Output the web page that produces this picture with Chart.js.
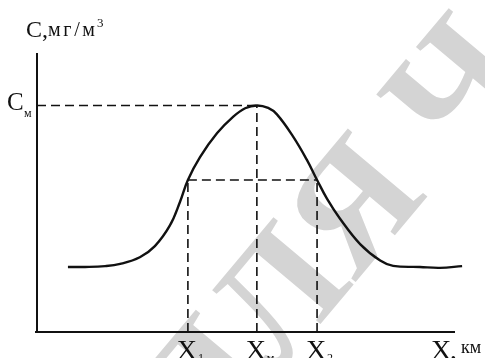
<!DOCTYPE html>
<html>
<head>
<meta charset="utf-8">
<script src="https://cdn.jsdelivr.net/npm/chart.js@4"></script>
<style>
  html, body { margin: 0; padding: 0; background: #fff; }
  #wrap { width: 485px; height: 358px; position: relative; }
</style>
</head>
<body>
<div id="wrap"><canvas id="c"></canvas></div>
<script>
// concentration profile along the plume axis (X in km, C in mg/m3, arbitrary units)
const curveX = [0.74, 1.15, 1.63, 1.99, 2.46, 2.82, 3.18, 3.42, 3.61, 3.90, 4.31, 4.69, 4.98, 5.26, 5.53, 5.74, 6.12, 6.46, 6.70, 6.94, 7.25, 7.73, 8.21, 8.52, 9.16, 9.64, 10.17];
const curveC = [2.33, 2.33, 2.36, 2.44, 2.68, 3.08, 3.82, 4.66, 5.45, 6.27, 7.13, 7.71, 8.02, 8.12, 8.03, 7.80, 7.02, 6.16, 5.45, 4.77, 4.06, 3.15, 2.56, 2.37, 2.33, 2.30, 2.36];

const xMarks = [3.61, 5.26, 6.70];       // X1, Xm, X2
const xMarkSubs = ['1', 'м', '2'];
const cMax = 8.12;                        // Cm
const cHalf = 5.45;                       // level at X1 / X2

const xMin = 0, xMax = 10, yMin = 0, yMax = 10;

const pts = (xs, ys) => xs.map((x, i) => ({ x, y: ys[i] }));
const dashed = (data) => ({
  data, borderColor: '#111', borderWidth: 1.6, borderDash: [9, 5],
  pointRadius: 0, fill: false, tension: 0, clip: false
});

const SERIF = '"Liberation Serif", "DejaVu Serif", serif';

// draw text stretched by letter spacing to cover a given width
function fitText(ctx, txt, x, y, width) {
  ctx.letterSpacing = '0px';
  const w = ctx.measureText(txt).width;
  const ls = Math.max(0, (width - w) / (txt.length - 1));
  ctx.letterSpacing = ls + 'px';
  ctx.fillText(txt, x, y);
  ctx.letterSpacing = '0px';
}

const watermark = {
  id: 'watermark',
  beforeDatasetsDraw(chart) {
    const ctx = chart.ctx;
    ctx.save();
    ctx.translate(208, 458);
    ctx.rotate(-50 * Math.PI / 180);
    ctx.fillStyle = 'rgb(212,212,212)';
    ctx.font = 'bold 160px ' + SERIF;
    ctx.textBaseline = 'alphabetic';
    ctx.fillText('ДЛЯ Ч', 0, 0);
    ctx.restore();
  }
};

const axesAndLabels = {
  id: 'axesAndLabels',
  afterDatasetsDraw(chart) {
    const ctx = chart.ctx;
    const xs = chart.scales.x, ys = chart.scales.y;
    const x0 = xs.getPixelForValue(xMin), y0 = ys.getPixelForValue(yMin);
    ctx.save();
    ctx.strokeStyle = '#111';
    ctx.lineWidth = 2;
    ctx.beginPath();
    ctx.moveTo(x0, ys.getPixelForValue(yMax));
    ctx.lineTo(x0, y0);
    ctx.moveTo(x0 - 2, y0);
    ctx.lineTo(xs.getPixelForValue(xMax), y0);
    ctx.stroke();

    ctx.fillStyle = '#111';
    ctx.textBaseline = 'alphabetic';
    ctx.textAlign = 'left';
    // y axis title
    ctx.font = '24px ' + SERIF;
    ctx.fillText('C', 26, 37);
    ctx.fillText(',', 42, 37);
    ctx.font = '20px ' + SERIF;
    fitText(ctx, 'мг/м', 48, 36, 47);
    ctx.font = '13px ' + SERIF;
    ctx.fillText('3', 97, 27);

    // Cm
    const yc = ys.getPixelForValue(cMax);
    ctx.font = '25px ' + SERIF;
    ctx.fillText('C', 7, yc + 5);
    ctx.font = '12px ' + SERIF;
    ctx.fillText('м', 24, yc + 12);

    // X marks
    xMarks.forEach((v, i) => {
      const px = xs.getPixelForValue(v);
      ctx.font = '28px ' + SERIF;
      ctx.textAlign = 'center';
      ctx.fillText('X', px - 1, 359);
      ctx.font = '12px ' + SERIF;
      ctx.textAlign = 'left';
      ctx.fillText(xMarkSubs[i], px + 10, 362);
    });

    // x axis title
    ctx.font = '28px ' + SERIF;
    ctx.textAlign = 'left';
    ctx.fillText('X', 431, 359);
    ctx.fillText(',', 450, 359);
    ctx.font = '18px ' + SERIF;
    ctx.fillText('км', 461, 353);
    ctx.restore();
  }
};

new Chart(document.getElementById('c'), {
  type: 'scatter',
  data: {
    datasets: [
      {
        data: pts(curveX, curveC), borderColor: '#111', borderWidth: 2.4,
        pointRadius: 0, tension: 0.4, fill: false, clip: false
      },
      dashed(pts([xMin, xMarks[1]], [cMax, cMax])),
      dashed(pts([xMarks[0], xMarks[2]], [cHalf, cHalf])),
      dashed(pts([xMarks[0], xMarks[0]], [yMin, cHalf])),
      dashed(pts([xMarks[1], xMarks[1]], [yMin, cMax])),
      dashed(pts([xMarks[2], xMarks[2]], [yMin, cHalf]))
    ].map(d => ({ showLine: true, ...d }))
  },
  options: {
    responsive: true, maintainAspectRatio: false, animation: false,
    layout: { padding: { left: 37, top: 53, right: 30, bottom: 26 } },
    scales: {
      x: { type: 'linear', min: xMin, max: xMax, display: false },
      y: { type: 'linear', min: yMin, max: yMax, display: false }
    },
    plugins: { legend: { display: false }, tooltip: { enabled: false } }
  },
  plugins: [watermark, axesAndLabels]
});
</script>
</body>
</html>
